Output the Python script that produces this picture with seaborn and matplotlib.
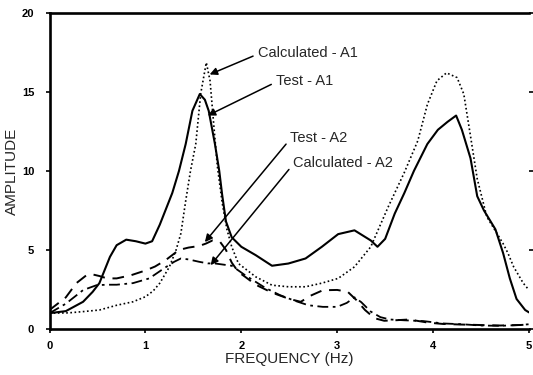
import numpy as np
import pandas as pd
import matplotlib
matplotlib.use("Agg")
import matplotlib.pyplot as plt
import seaborn as sns

# DATA
test_a1_f = [0, 0.17, 0.35, 0.45, 0.52, 0.63, 0.7, 0.8, 0.9, 1.0, 1.07, 1.15, 1.28, 1.35,
             1.42, 1.49, 1.567, 1.62, 1.66, 1.725, 1.77, 1.8, 1.84, 1.9, 2.0, 2.15, 2.32,
             2.49, 2.67, 2.84, 3.01, 3.18, 3.35, 3.42, 3.5, 3.6, 3.7, 3.8, 3.94, 4.05, 4.15,
             4.24, 4.3, 4.39, 4.46, 4.53, 4.65, 4.73, 4.8, 4.87, 4.96, 5.0]
test_a1_amp = [1.0, 1.13, 1.72, 2.35, 2.9, 4.56, 5.3, 5.65, 5.55, 5.4, 5.55, 6.6, 8.6, 10.0,
               11.7, 13.8, 14.86, 14.5, 13.8, 11.7, 10.0, 8.5, 6.8, 5.8, 5.2, 4.67, 4.0,
               4.14, 4.46, 5.2, 6.0, 6.24, 5.6, 5.2, 5.7, 7.3, 8.6, 10.0, 11.7, 12.6, 13.1,
               13.5, 12.6, 10.8, 8.4, 7.5, 6.3, 4.8, 3.2, 1.9, 1.2, 1.05]

calc_a1_f = [0, 0.2, 0.35, 0.52, 0.7, 0.87, 1.0, 1.08, 1.15, 1.25, 1.32, 1.37, 1.42, 1.47,
             1.525, 1.577, 1.635, 1.674, 1.715, 1.75, 1.8, 1.85, 1.9, 1.97, 2.15, 2.32,
             2.49, 2.67, 2.84, 3.01, 3.18, 3.35, 3.53, 3.7, 3.84, 3.94, 4.04, 4.14, 4.25,
             4.32, 4.39, 4.46, 4.56, 4.67, 4.73, 4.78, 4.84, 4.94, 5.0]
calc_a1_amp = [1.0, 1.02, 1.1, 1.2, 1.5, 1.72, 2.04, 2.4, 2.9, 3.93, 5.0, 6.05, 8.1, 10.0,
               11.7, 14.9, 16.85, 15.7, 12.75, 10.3, 8.0, 6.3, 5.2, 4.14, 3.3, 2.77,
               2.67, 2.67, 2.9, 3.2, 3.93, 5.2, 7.7, 9.9, 11.9, 14.2, 15.7, 16.2, 15.9,
               14.86, 12.2, 9.5, 7.1, 6.0, 5.4, 4.8, 3.93, 2.9, 2.46]

test_a2_f = [0, 0.17, 0.28, 0.385, 0.45, 0.52, 0.6, 0.7, 0.85, 1.0, 1.1, 1.21, 1.35, 1.45,
             1.56, 1.63, 1.7, 1.78, 1.84, 1.9, 1.97, 2.04, 2.15, 2.32, 2.5, 2.62, 2.72,
             2.85, 3.0, 3.11, 3.2, 3.29, 3.39, 3.49, 3.6, 3.75, 3.85, 3.95, 4.1, 4.3, 4.5,
             4.7, 4.9, 5.0]
test_a2_amp = [1.2, 2.0, 2.9, 3.4, 3.45, 3.35, 3.2, 3.2, 3.4, 3.7, 3.95, 4.35, 5.0, 5.15,
               5.25, 5.4, 5.6, 5.5, 5.0, 4.2, 3.6, 3.3, 2.8, 2.3, 1.9, 1.72, 2.1,
               2.45, 2.47, 2.35, 1.83, 1.2, 0.68, 0.52, 0.55, 0.6, 0.5, 0.4, 0.32, 0.28, 0.25,
               0.22, 0.25, 0.28]

calc_a2_f = [0, 0.17, 0.35, 0.49, 0.6, 0.7, 0.87, 1.04, 1.21, 1.3, 1.37, 1.45, 1.56, 1.65,
             1.73, 1.9, 2.04, 2.25, 2.4, 2.55, 2.7, 2.85, 3.0, 3.1, 3.18, 3.25, 3.35, 3.45,
             3.55, 3.7, 3.9, 4.1, 4.3, 4.5, 4.7, 4.9, 5.0]
calc_a2_amp = [1.0, 1.6, 2.46, 2.77, 2.8, 2.8, 2.9, 3.2, 3.9, 4.25, 4.46, 4.4, 4.25, 4.15,
               4.14, 4.0, 3.4, 2.6, 2.15, 1.8, 1.5, 1.4, 1.4, 1.65, 2.0, 1.7, 1.1, 0.75,
               0.6, 0.55, 0.5, 0.35, 0.3, 0.22, 0.2, 0.25, 0.3]

x_ticks = [0, 1, 2, 3, 4, 5]
y_ticks = [0, 5, 10, 15, 20]

# label text, arrow tip (f, amp), text anchor (f, amp)
labels = ["Calculated - A1", "Test - A1", "Test - A2", "Calculated - A2"]
label_tips = [(1.67, 16.1), (1.65, 13.5), (1.62, 5.5), (1.68, 4.04)]
label_text_pos = [(2.17, 17.47), (2.36, 15.7), (2.51, 12.1), (2.54, 10.5)]

# STYLE
sns.set_style("ticks")
plt.rcParams["font.family"] = ["Liberation Sans", "DejaVu Sans"]

fig = plt.figure(figsize=(5.33, 3.75), dpi=100)
ax = fig.add_axes([0.0929, 0.1227, 0.8996, 0.8432])

series = [
    (test_a1_f, test_a1_amp, "-", 1.5),
    (calc_a1_f, calc_a1_amp, (0, (1, 1.5)), 1.2),
    (test_a2_f, test_a2_amp, (0, (6, 4)), 1.4),
    (calc_a2_f, calc_a2_amp, (0, (6, 2.5, 1.5, 2.5)), 1.3),
]
for f, amp, ls, lw in series:
    df = pd.DataFrame({"freq": f, "amp": amp})
    sns.lineplot(data=df, x="freq", y="amp", ax=ax, color="black",
                 linestyle=ls, linewidth=lw, sort=False, estimator=None)

for txt, tip, pos in zip(labels, label_tips, label_text_pos):
    ax.annotate(txt, xy=tip, xytext=pos, fontsize=10.5, ha="left", va="center",
                arrowprops=dict(arrowstyle="-|>", color="black", lw=1.1,
                                shrinkA=1, shrinkB=0, mutation_scale=11,
                                relpos=(0, 0.4)))

ax.set_xlim(0, 5)
ax.set_ylim(0, 20)
ax.set_xticks(x_ticks)
ax.set_yticks(y_ticks)
ax.set_xticklabels([str(t) for t in x_ticks], fontweight="bold", fontsize=8,
                   family=["Liberation Sans Narrow", "Liberation Sans"])
ax.set_yticklabels([str(t) for t in y_ticks], fontweight="bold", fontsize=8,
                   family=["Liberation Sans Narrow", "Liberation Sans"])
ax.tick_params(axis="both", which="both", direction="out", length=3, width=1.2,
               color="black", labelcolor="black")
ax.tick_params(axis="x", pad=6)
ax.tick_params(axis="y", pad=8, right=True)

for side in ["left", "bottom", "top"]:
    ax.spines[side].set_linewidth(1.9)
    ax.spines[side].set_color("black")
ax.spines["right"].set_visible(False)

ax.set_xlabel("FREQUENCY (Hz)", fontsize=11)
ax.set_ylabel("AMPLITUDE", fontsize=11)
ax.xaxis.set_label_coords(0.5, -0.074)
ax.yaxis.set_label_coords(-0.0636, 0.5)

fig.savefig("out.png", dpi=100)
